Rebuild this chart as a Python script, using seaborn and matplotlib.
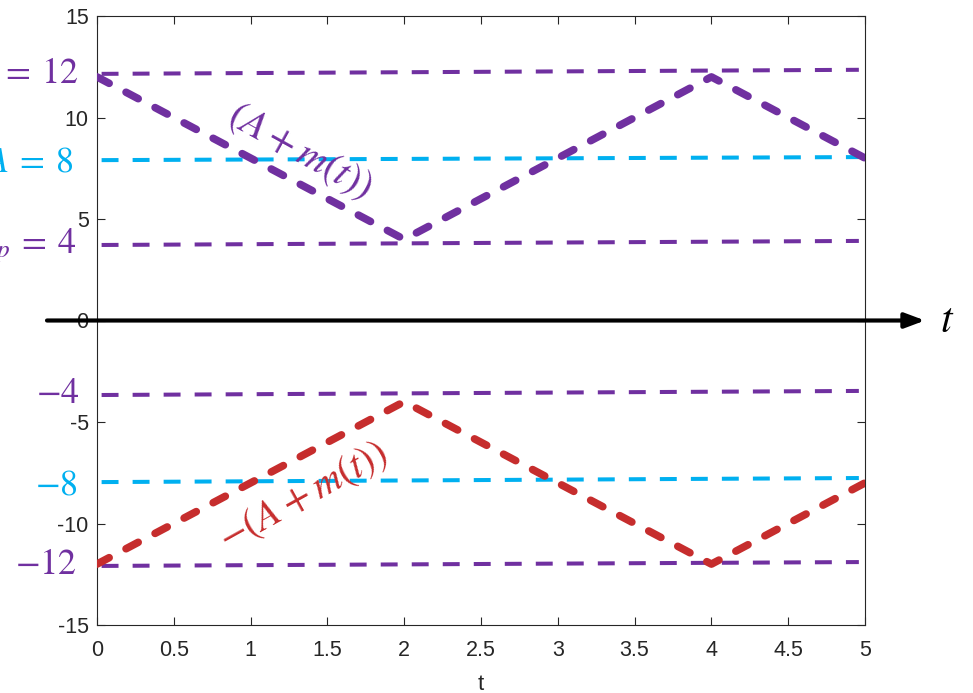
import numpy as np
import pandas as pd
import matplotlib
matplotlib.use("Agg")
import matplotlib.pyplot as plt
import seaborn as sns

# envelope corners
t_pts = [0, 2, 4, 5]
upper_env = [12, 4, 12, 8]
lower_env = [-12, -4, -12, -8]

# hand-drawn guide lines (left level, right level)
guide_left = [12.15, 7.9, 3.72, -3.67, -7.96, -12.09]
guide_right = [12.35, 8.05, 3.92, -3.47, -7.76, -11.9]
guide_colors = ['#7030A0', '#00B0F0', '#7030A0', '#7030A0', '#00B0F0', '#7030A0']

# side labels
side_labels = [r'$A\:+\:m_p\:=\:12$', r'$A\:=\:8$', r'$m_p\:=\:4$', r'$-4$', r'$-8$', r'$-12$']
side_y = [12.1, 7.8, 3.7, -3.6, -8.1, -12.0]
side_x_px = [79, 74, 76, 80, 78, 77]

xticks = [0, 0.5, 1, 1.5, 2, 2.5, 3, 3.5, 4, 4.5, 5]
xtick_labels = ['0', '0.5', '1', '1.5', '2', '2.5', '3', '3.5', '4', '4.5', '5']
yticks = [-15, -10, -5, 0, 5, 10, 15]
ytick_labels = ['-15', '-10', '-5', '0', '5', '10', '15']

PURPLE = '#7030A0'
CYAN = '#00B0F0'
RED = '#C62D2D'

sns.set_style('ticks')
plt.rcParams['font.family'] = ['Liberation Sans', 'DejaVu Sans']
plt.rcParams['mathtext.fontset'] = 'stix'

fig = plt.figure(figsize=(9.73, 6.93), dpi=100)
ax = fig.add_axes([97 / 973, 1 - 625 / 693, 768 / 973, 609 / 693])

# guide lines
for yl, yr, c in zip(guide_left, guide_right, guide_colors):
    ax.plot([0.03, 4.96], [yl, yr], color=c, lw=2.9,
            linestyle=(0, (4.2, 3.5)), solid_capstyle='butt', zorder=2)

env = pd.DataFrame({'t': t_pts, 'upper': upper_env, 'lower': lower_env})
sns.lineplot(data=env, x='t', y='upper', color=PURPLE, lw=5.5,
             linestyle=(0, (1.8, 2.5)), dash_capstyle='round', ax=ax, zorder=3)
sns.lineplot(data=env, x='t', y='lower', color=RED, lw=5.5,
             linestyle=(0, (1.8, 2.5)), dash_capstyle='round', ax=ax, zorder=3)

ax.set_xlim(0, 5)
ax.set_ylim(-15, 15)
ax.set_xticks(xticks)
ax.set_xticklabels(xtick_labels)
ax.set_yticks(yticks)
ax.set_yticklabels(ytick_labels)
ax.set_xlabel('t', fontsize=16, color='#262626', labelpad=9)
ax.set_ylabel('')
ax.tick_params(direction='in', top=True, right=True, length=6, width=0.8,
               colors='#262626', labelsize=15.5)
ax.tick_params(axis='x', pad=11)
ax.tick_params(axis='y', pad=6)
for s in ax.spines.values():
    s.set_visible(True)
    s.set_color('#262626')
    s.set_linewidth(0.8)

# time axis arrow
ax.annotate('', xy=(925 / 973, 0), xytext=(47 / 973, 0),
            xycoords=('figure fraction', 'data'), textcoords=('figure fraction', 'data'),
            arrowprops=dict(arrowstyle='-|>,head_length=1.2,head_width=0.45',
                            color='black', lw=3, shrinkA=0, shrinkB=0),
            annotation_clip=False, zorder=5)
ax.text(940 / 973, 0, r'$t$', fontsize=30, color='black', ha='left', va='center',
        transform=matplotlib.transforms.blended_transform_factory(fig.transFigure, ax.transData),
        clip_on=False)

# side level labels
side_tf = matplotlib.transforms.blended_transform_factory(fig.transFigure, ax.transData)
for lab, yv, xp, c in zip(side_labels, side_y, side_x_px, guide_colors):
    ax.text(xp / 973, yv, lab, fontsize=26, color=c, ha='right', va='center',
            transform=side_tf, clip_on=False)

# envelope annotations
ax.text(1.32, 8.3, r'$(A\:+\:m(t))$', fontsize=29, color=PURPLE, rotation=-29,
        ha='center', va='center', rotation_mode='anchor')
ax.text(1.34, -8.7, r'$-(A\:+\:m(t))$', fontsize=29, color=RED, rotation=29,
        ha='center', va='center', rotation_mode='anchor')

fig.savefig('out.png', dpi=100)
